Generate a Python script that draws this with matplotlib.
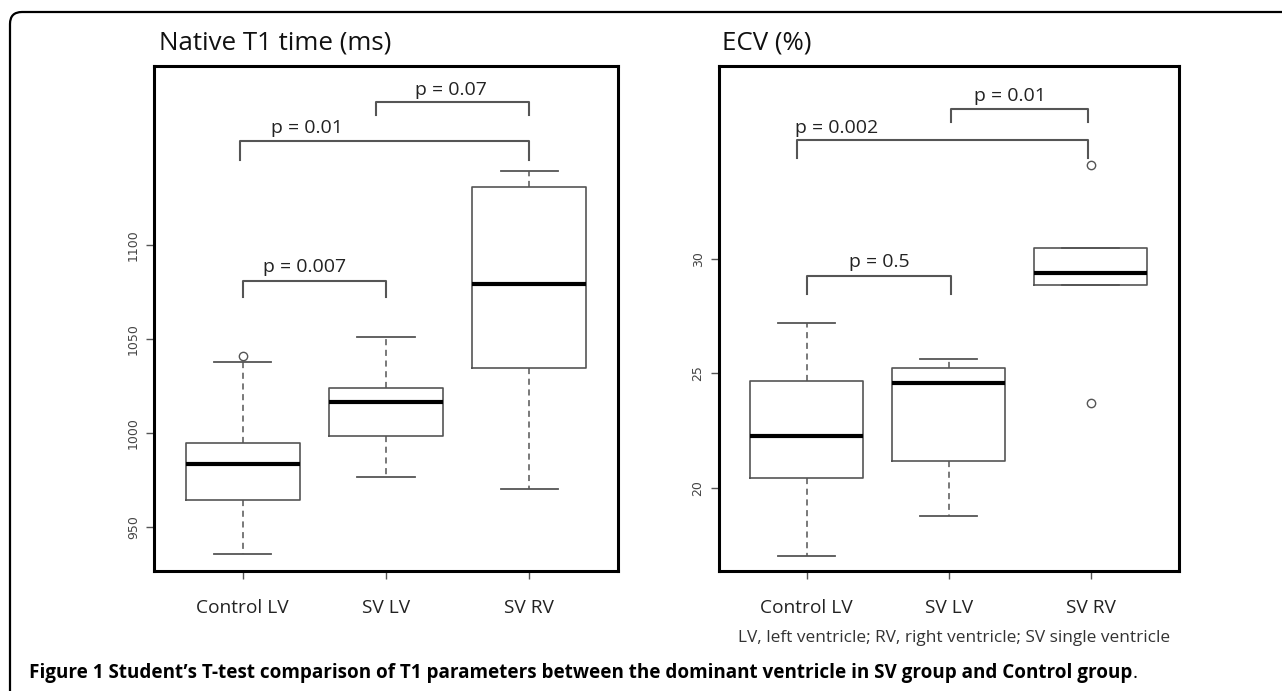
import matplotlib
matplotlib.use("Agg")
import matplotlib.pyplot as plt
from matplotlib.patches import FancyBboxPatch

## Data ##
groups = ["Control LV", "SV LV", "SV RV"]

# native T1 (ms)
t1_whislo = [935.8, 976.8, 970.2]
t1_q1 = [964.2, 998.2, 1034.4]
t1_med = [983.7, 1016.3, 1079.1]
t1_q3 = [994.8, 1023.8, 1130.5]
t1_whishi = [1037.9, 1051.2, 1139.0]
t1_fliers = [[1041.0], [], []]
t1_ticks = [950, 1000, 1050, 1100]
# (text, left, right, bar height, leg bottom, label x, label y)
t1_pairs = [("p = 0.07", 1.93, 3.0, 1176, 1169, 2.45, 1182),
            ("p = 0.01", 0.98, 3.0, 1155, 1145, 1.45, 1162),
            ("p = 0.007", 1.0, 2.0, 1080.5, 1072, 1.43, 1088)]

# ECV (%)
ecv_whislo = [17.02, 18.76, 28.84]
ecv_q1 = [20.44, 21.17, 28.84]
ecv_med = [22.26, 24.56, 29.36]
ecv_q3 = [24.66, 25.24, 30.45]
ecv_whishi = [27.18, 25.60, 30.45]
ecv_fliers = [[], [], [34.07, 23.69]]
ecv_ticks = [20, 25, 30]
ecv_pairs = [("p = 0.01", 2.02, 2.98, 36.55, 35.98, 2.43, 37.1),
             ("p = 0.002", 0.93, 2.98, 35.2, 34.38, 1.21, 35.72),
             ("p = 0.5", 1.0, 2.02, 29.24, 28.45, 1.51, 29.86)]

W, H = 1282, 691
FONT = "Open Sans"
GREY = "#555555"


def draw_panel(ax, whislo, q1, med, q3, whishi, fliers, ticks, pairs, ylim):
    stats = []
    for i in range(len(groups)):
        stats.append(dict(whislo=whislo[i], q1=q1[i], med=med[i], q3=q3[i],
                          whishi=whishi[i], fliers=fliers[i]))
    ax.bxp(stats, positions=[1, 2, 3], widths=0.8, capwidths=0.4,
           boxprops=dict(color=GREY, linewidth=1.2),
           whiskerprops=dict(color=GREY, linewidth=1.1, linestyle=(0, (4, 3))),
           capprops=dict(color=GREY, linewidth=1.3),
           medianprops=dict(color="black", linewidth=3),
           flierprops=dict(marker="o", markersize=6, markerfacecolor="none",
                           markeredgecolor=GREY, markeredgewidth=1.0))
    ax.set_xlim(0.38, 3.62)
    ax.set_ylim(*ylim)
    ax.set_yticks(ticks)
    ax.set_yticklabels([str(t) for t in ticks], rotation=90, va="center",
                       fontsize=9, color="#444444", family="DejaVu Sans")
    ax.set_xticks([1, 2, 3])
    ax.set_xticklabels(groups, fontsize=13.8, family=FONT, color="#222222")
    ax.tick_params(axis="y", length=6, width=1, color=GREY, pad=4)
    ax.tick_params(axis="x", length=6, width=1, color=GREY, pad=14)
    for s in ax.spines.values():
        s.set_linewidth(2.2)
        s.set_color("black")

    for label, x0, x1, ybar, yleg, tx, ty in pairs:
        ax.plot([x0, x0, x1, x1], [yleg, ybar, ybar, yleg], color=GREY,
                linewidth=1.5, solid_joinstyle="round")
        ax.text(tx, ty, label, ha="center", va="center", fontsize=14,
                family=FONT, color="#222222")


fig = plt.figure(figsize=(W / 100, H / 100), dpi=100)

ax1 = fig.add_axes([154 / W, 1 - 571 / H, (618 - 154) / W, (571 - 66) / H])
draw_panel(ax1, t1_whislo, t1_q1, t1_med, t1_q3, t1_whishi, t1_fliers,
           t1_ticks, t1_pairs, (926.6, 1195))

ax2 = fig.add_axes([718.5 / W, 1 - 571 / H, (1178.7 - 718.5) / W, (571 - 66) / H])
draw_panel(ax2, ecv_whislo, ecv_q1, ecv_med, ecv_q3, ecv_whishi, ecv_fliers,
           ecv_ticks, ecv_pairs, (16.36, 38.41))

fig.text(159 / W, 1 - 43 / H, "Native T1 time (ms)", fontsize=18.6, family=FONT,
         va="center", ha="left", color="#111111")
fig.text(722 / W, 1 - 43 / H, "ECV (%)", fontsize=18.6, family=FONT,
         va="center", ha="left", color="#111111")
fig.text(954 / W, 1 - 638 / H,
         "LV, left ventricle; RV, right ventricle; SV single ventricle",
         fontsize=12.4, family=FONT, ha="center", va="center", color="#333333")

cap = fig.text(29 / W, 1 - 673 / H,
               "Figure 1 Student\u2019s T-test comparison of T1 parameters between "
               "the dominant ventricle in SV group and Control group",
               fontsize=13.6, family=FONT, fontweight="bold", ha="left",
               va="center", color="black")
fig.canvas.draw()
bb = cap.get_window_extent()
fig.text(bb.x1 / W, 1 - 673 / H, ".", fontsize=13.6, family=FONT, ha="left",
         va="center", color="black")

# rounded outer frame of the figure panel
frame = FancyBboxPatch((10, -30), 1320, H - 12 + 30,
                       boxstyle="round,pad=0,rounding_size=12",
                       transform=None, facecolor="none", edgecolor="black",
                       linewidth=1.6)
fig.add_artist(frame)

fig.savefig("out.png", dpi=100)
